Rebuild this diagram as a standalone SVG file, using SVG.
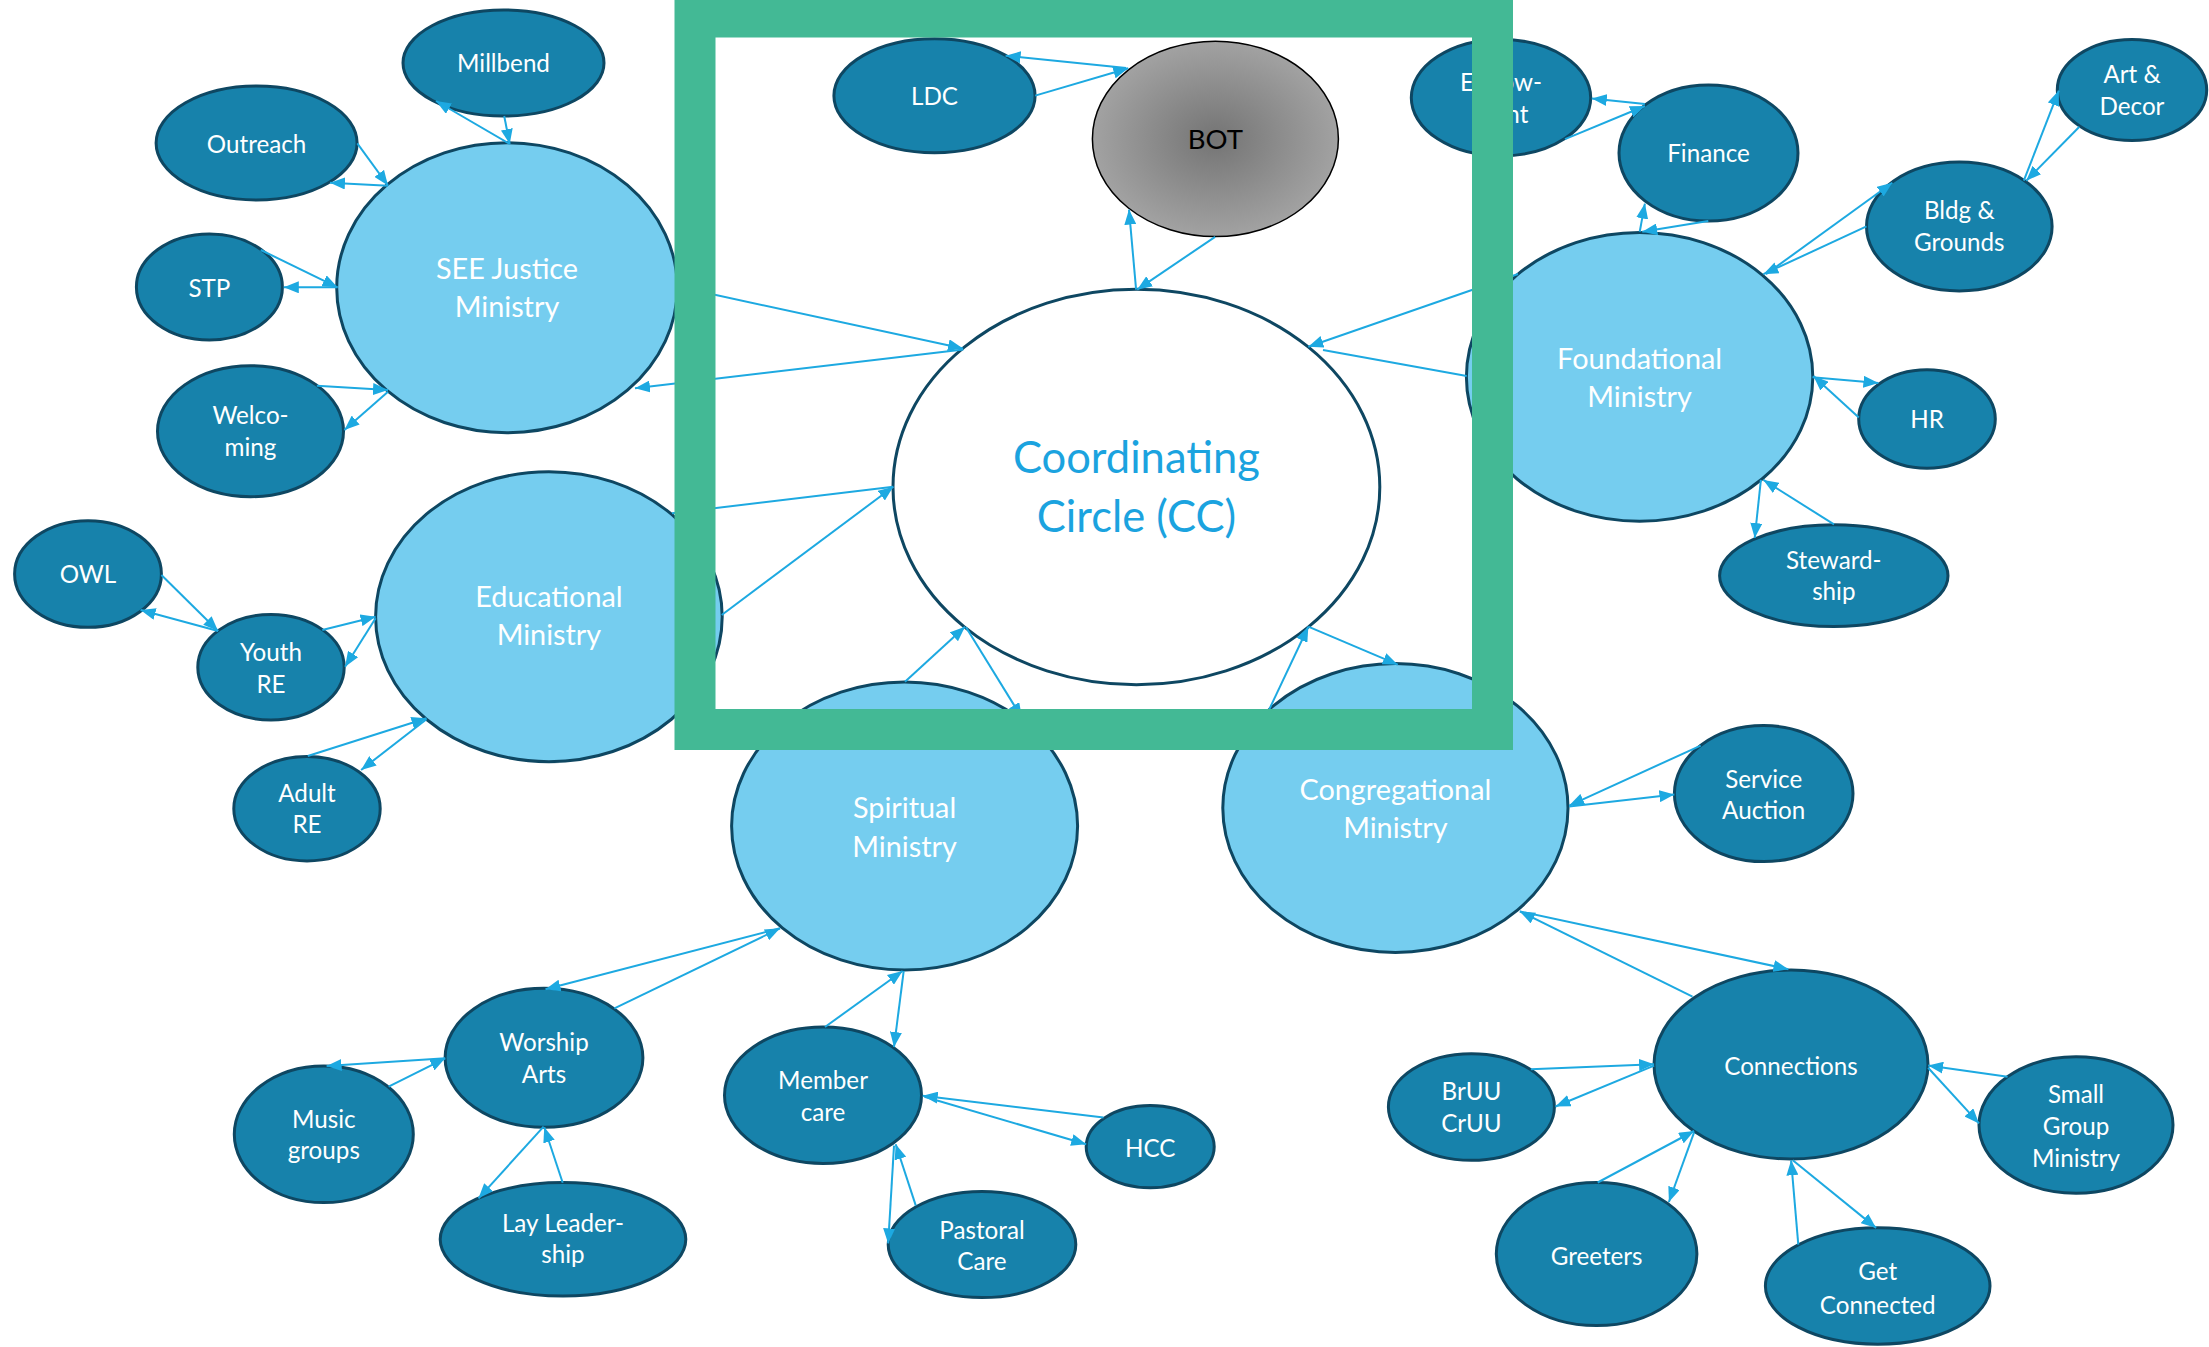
<svg xmlns="http://www.w3.org/2000/svg" width="2209" height="1347" viewBox="0 0 2209 1347">
<style>
.sm{fill:#1782AB;stroke:#0E4762;stroke-width:3}
.bg{fill:#75CDEF;stroke:#0E4762;stroke-width:3}
.t{font-family:Lato,"Liberation Sans",sans-serif;fill:#FFFFFF;text-anchor:middle}
.ts{font-size:24.2px}
.tb{font-size:28.8px}
.c line{stroke:#1DA9E1;stroke-width:2}
.c line.a{marker-end:url(#ah)}
</style>
<defs>
<marker id="ah" markerUnits="userSpaceOnUse" markerWidth="16" markerHeight="12" refX="15" refY="6" orient="auto">
<path d="M0,0 L15,6 L0,12 Z" fill="#1DA9E1"/>
</marker>
<radialGradient id="botg" cx="0.5" cy="0.5" r="0.5">
<stop offset="0" stop-color="#747474"/>
<stop offset="1" stop-color="#A2A2A2"/>
</radialGradient>
</defs>
<rect width="2209" height="1347" fill="#FFFFFF"/>

<g id="see"><ellipse class="bg" cx="507" cy="287.7" rx="170.3" ry="145"/><text class="t tb" x="507" y="279.3">SEE Justice</text><text class="t tb" x="507" y="317.3">Ministry</text></g>
<g id="educational"><ellipse class="bg" cx="548.9" cy="616.7" rx="173.3" ry="145"/><text class="t tb" x="548.9" y="606.7">Educational</text><text class="t tb" x="548.9" y="645">Ministry</text></g>
<g id="spiritual"><ellipse class="bg" cx="904.6" cy="826" rx="173" ry="144"/><text class="t tb" x="904.6" y="818">Spiritual</text><text class="t tb" x="904.6" y="856.7">Ministry</text></g>
<g id="congregational"><ellipse class="bg" cx="1395.4" cy="808" rx="172.6" ry="144.4"/><text class="t tb" x="1395.4" y="800.2">Congregational</text><text class="t tb" x="1395.4" y="837.6">Ministry</text></g>
<g id="foundational"><ellipse class="bg" cx="1639.6" cy="376.9" rx="173.2" ry="144.4"/><text class="t tb" x="1639.6" y="369">Foundational</text><text class="t tb" x="1639.6" y="407.2">Ministry</text></g>
<g id="cc"><ellipse cx="1136.4" cy="487" rx="243.4" ry="197.7" fill="#FFFFFF" stroke="#0E4762" stroke-width="3"/><text class="t" style="fill:#1BA3DF;font-size:43.5px" x="1136.4" y="472.6">Coordinating</text><text class="t" style="fill:#1BA3DF;font-size:43.5px" x="1136.4" y="531.7">Circle (CC)</text></g>
<g id="bot"><ellipse cx="1215.4" cy="138.9" rx="123" ry="97.7" fill="url(#botg)" stroke="#000000" stroke-width="1.5"/><text class="t" style="fill:#000000;font-size:27.5px" x="1215.4" y="149.3">BOT</text></g>

<g id="millbend"><ellipse class="sm" cx="503.5" cy="63" rx="100.5" ry="53"/><text class="t ts" x="503.5" y="71.7">Millbend</text></g>
<g id="outreach"><ellipse class="sm" cx="256.6" cy="143" rx="100.5" ry="57"/><text class="t ts" x="256.6" y="153.3">Outreach</text></g>
<g id="stp"><ellipse class="sm" cx="209.4" cy="287" rx="73" ry="53"/><text class="t ts" x="209.4" y="296.7">STP</text></g>
<g id="welcoming"><ellipse class="sm" cx="250.5" cy="431.2" rx="93" ry="65.5"/><text class="t ts" x="250.5" y="424">Welco-</text><text class="t ts" x="250.5" y="456">ming</text></g>
<g id="owl"><ellipse class="sm" cx="88" cy="574" rx="73.4" ry="53.3"/><text class="t ts" x="88" y="583.3">OWL</text></g>
<g id="youth"><ellipse class="sm" cx="271" cy="667.2" rx="73.2" ry="52.8"/><text class="t ts" x="271" y="660.7">Youth</text><text class="t ts" x="271" y="692.7">RE</text></g>
<g id="adult"><ellipse class="sm" cx="307" cy="808.7" rx="73.2" ry="52.2"/><text class="t ts" x="307" y="801.7">Adult</text><text class="t ts" x="307" y="833.3">RE</text></g>
<g id="ldc"><ellipse class="sm" cx="934.5" cy="95.7" rx="100.6" ry="57"/><text class="t ts" x="934.5" y="105.2">LDC</text></g>
<g id="endowment"><ellipse class="sm" cx="1501" cy="97.7" rx="89.7" ry="58.2"/><text class="t ts" x="1501" y="91.4">Endow-</text><text class="t ts" x="1501" y="123.4">ment</text></g>
<g id="finance"><ellipse class="sm" cx="1708.5" cy="153" rx="89.5" ry="68"/><text class="t ts" x="1708.5" y="162">Finance</text></g>
<g id="art"><ellipse class="sm" cx="2132" cy="90" rx="74.7" ry="50.5"/><text class="t ts" x="2132" y="83.1">Art &amp;</text><text class="t ts" x="2132" y="115.1">Decor</text></g>
<g id="bldg"><ellipse class="sm" cx="1959.3" cy="226.5" rx="92.8" ry="64.4"/><text class="t ts" x="1959.3" y="219.4">Bldg &amp;</text><text class="t ts" x="1959.3" y="251.4">Grounds</text></g>
<g id="hr"><ellipse class="sm" cx="1927" cy="419" rx="68.3" ry="49.2"/><text class="t ts" x="1927" y="428">HR</text></g>
<g id="stewardship"><ellipse class="sm" cx="1833.8" cy="575.7" rx="114.2" ry="50.9"/><text class="t ts" x="1833.8" y="569.2">Steward-</text><text class="t ts" x="1833.8" y="600.4">ship</text></g>
<g id="service"><ellipse class="sm" cx="1763.7" cy="793.6" rx="89.3" ry="68"/><text class="t ts" x="1763.7" y="787.8">Service</text><text class="t ts" x="1763.7" y="818.9">Auction</text></g>
<g id="connections"><ellipse class="sm" cx="1791" cy="1064.5" rx="137" ry="94.5"/><text class="t ts" x="1791" y="1074.5">Connections</text></g>
<g id="bruu"><ellipse class="sm" cx="1471.4" cy="1107" rx="83" ry="53.3"/><text class="t ts" x="1471.4" y="1099.8">BrUU</text><text class="t ts" x="1471.4" y="1132.3">CrUU</text></g>
<g id="smallgroup"><ellipse class="sm" cx="2076" cy="1125" rx="97" ry="68.2"/><text class="t ts" x="2076" y="1102.5">Small</text><text class="t ts" x="2076" y="1134.5">Group</text><text class="t ts" x="2076" y="1166.5">Ministry</text></g>
<g id="greeters"><ellipse class="sm" cx="1596.6" cy="1254" rx="100.3" ry="71.6"/><text class="t ts" x="1596.6" y="1264.7">Greeters</text></g>
<g id="getconnected"><ellipse class="sm" cx="1877.7" cy="1286" rx="112.3" ry="58.2"/><text class="t ts" x="1877.7" y="1280.3">Get</text><text class="t ts" x="1877.7" y="1313.6">Connected</text></g>
<g id="worship"><ellipse class="sm" cx="544" cy="1057.8" rx="98.9" ry="69.5"/><text class="t ts" x="544" y="1050.7">Worship</text><text class="t ts" x="544" y="1082.7">Arts</text></g>
<g id="music"><ellipse class="sm" cx="323.8" cy="1134.3" rx="89.5" ry="68.3"/><text class="t ts" x="323.8" y="1127.7">Music</text><text class="t ts" x="323.8" y="1159.3">groups</text></g>
<g id="lay"><ellipse class="sm" cx="563" cy="1239.3" rx="122.8" ry="56.7"/><text class="t ts" x="563" y="1231.7">Lay Leader-</text><text class="t ts" x="563" y="1263.3">ship</text></g>
<g id="member"><ellipse class="sm" cx="823" cy="1095.2" rx="98.5" ry="68.2"/><text class="t ts" x="823" y="1089.2">Member</text><text class="t ts" x="823" y="1121.2">care</text></g>
<g id="hcc"><ellipse class="sm" cx="1150.2" cy="1146.7" rx="64" ry="41.1"/><text class="t ts" x="1150.2" y="1156.7">HCC</text></g>
<g id="pastoral"><ellipse class="sm" cx="982" cy="1244.5" rx="93.8" ry="53.1"/><text class="t ts" x="982" y="1239">Pastoral</text><text class="t ts" x="982" y="1270">Care</text></g>

<g id="connectors" class="c">
<line class="a" x1="509.7" y1="144" x2="436" y2="101"/>
<line class="a" x1="504.2" y1="116" x2="509.7" y2="144"/>
<line class="a" x1="357.3" y1="143.3" x2="388" y2="185.5"/>
<line class="a" x1="388" y1="185.7" x2="330" y2="182.7"/>
<line class="a" x1="260.8" y1="250" x2="337.5" y2="287.3"/>
<line class="a" x1="337.5" y1="287.3" x2="283.8" y2="287.3"/>
<line class="a" x1="316.8" y1="385.7" x2="388" y2="390"/>
<line class="a" x1="388" y1="391.7" x2="344.4" y2="430"/>
<line class="a" x1="677" y1="286.6" x2="963" y2="348.4"/>
<line class="a" x1="963.3" y1="349.4" x2="635" y2="388.3"/>
<line x1="893.3" y1="486.7" x2="672" y2="513.3"/>
<line class="a" x1="721.7" y1="615" x2="893.3" y2="486.7"/>
<line class="a" x1="905" y1="681.7" x2="965" y2="626.7"/>
<line class="a" x1="966" y1="627.3" x2="1022" y2="718"/>
<line class="a" x1="1268" y1="712" x2="1308.3" y2="626.7"/>
<line class="a" x1="1308.3" y1="626.7" x2="1397.8" y2="664.7"/>
<line class="a" x1="1518" y1="274" x2="1308.3" y2="346.7"/>
<line x1="1466.7" y1="376" x2="1323" y2="350"/>
<line class="a" x1="1136.1" y1="289.7" x2="1129" y2="209.6"/>
<line class="a" x1="1215.1" y1="236.8" x2="1137.2" y2="289.7"/>
<line class="a" x1="1126.2" y1="67.9" x2="1005.6" y2="55.8"/>
<line class="a" x1="1035.2" y1="95.6" x2="1128.3" y2="68.3"/>
<line class="a" x1="1644.9" y1="103.9" x2="1591.8" y2="98.5"/>
<line class="a" x1="1565" y1="139.2" x2="1644.9" y2="106"/>
<line class="a" x1="1639.7" y1="231.8" x2="1644.9" y2="203.6"/>
<line class="a" x1="1708.3" y1="221" x2="1642.3" y2="231.8"/>
<line class="a" x1="1766" y1="274.2" x2="1892.3" y2="182.8"/>
<line class="a" x1="1866.5" y1="226.4" x2="1763.4" y2="274.2"/>
<line class="a" x1="2023.8" y1="180.7" x2="2058.8" y2="90.6"/>
<line class="a" x1="2079.4" y1="126.7" x2="2026.3" y2="180.7"/>
<line class="a" x1="1812.4" y1="377.3" x2="1878.4" y2="383.1"/>
<line class="a" x1="1858.8" y1="417.6" x2="1813.4" y2="376"/>
<line class="a" x1="1760.9" y1="479.9" x2="1754.7" y2="538"/>
<line class="a" x1="1834" y1="524.4" x2="1763.4" y2="479.9"/>
<line class="a" x1="161.4" y1="575" x2="218.1" y2="631"/>
<line class="a" x1="218.1" y1="631" x2="140.6" y2="610"/>
<line class="a" x1="322.3" y1="630" x2="375.6" y2="616.7"/>
<line class="a" x1="375.6" y1="618.3" x2="345.1" y2="666.7"/>
<line class="a" x1="307.8" y1="756" x2="426.5" y2="718.3"/>
<line class="a" x1="426.5" y1="719.3" x2="361.1" y2="770"/>
<line class="a" x1="780" y1="928.3" x2="545.5" y2="989.3"/>
<line class="a" x1="614.4" y1="1008.3" x2="780" y2="928.3"/>
<line class="a" x1="445.2" y1="1058.3" x2="326.6" y2="1066"/>
<line class="a" x1="388.6" y1="1086.7" x2="445.2" y2="1058.3"/>
<line class="a" x1="543.6" y1="1126.7" x2="478.5" y2="1198.3"/>
<line class="a" x1="562.7" y1="1182.7" x2="544.3" y2="1127.3"/>
<line class="a" x1="825" y1="1027" x2="902.6" y2="971"/>
<line class="a" x1="903.7" y1="971" x2="894" y2="1047"/>
<line class="a" x1="1103.5" y1="1117.6" x2="922.7" y2="1095.8"/>
<line class="a" x1="924.4" y1="1096.7" x2="1086.2" y2="1144.3"/>
<line class="a" x1="915.8" y1="1205.6" x2="895.7" y2="1144.3"/>
<line class="a" x1="894" y1="1145.6" x2="888.2" y2="1243.4"/>
<line class="a" x1="1700.7" y1="745.6" x2="1569.2" y2="805.6"/>
<line class="a" x1="1569.2" y1="806.5" x2="1674.4" y2="794.5"/>
<line class="a" x1="1692.5" y1="996.7" x2="1519.9" y2="911.4"/>
<line class="a" x1="1519.9" y1="911.4" x2="1788.4" y2="969.2"/>
<line class="a" x1="1530.8" y1="1069.2" x2="1654.1" y2="1064.3"/>
<line class="a" x1="1654.1" y1="1065.6" x2="1555.5" y2="1106.5"/>
<line class="a" x1="2007.6" y1="1076.7" x2="1928.1" y2="1065.6"/>
<line class="a" x1="1928.1" y1="1067.8" x2="1979" y2="1123.4"/>
<line class="a" x1="1597.7" y1="1182.5" x2="1694.1" y2="1131"/>
<line class="a" x1="1694.1" y1="1132.3" x2="1668.9" y2="1202"/>
<line class="a" x1="1798.3" y1="1244.7" x2="1791.1" y2="1160.3"/>
<line class="a" x1="1792.8" y1="1160.3" x2="1876.1" y2="1227.9"/>
</g>

<g id="frame"><rect x="695" y="17" width="797.5" height="712.5" fill="none" stroke="#43B995" stroke-width="41"/></g>
</svg>
